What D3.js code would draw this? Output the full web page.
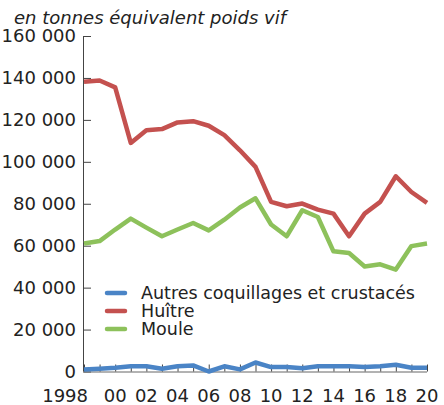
<!DOCTYPE html>
<html>
<head>
<meta charset="utf-8">
<script src="https://cdn.jsdelivr.net/npm/d3@7"></script>
<style>
  body { margin: 0; background: #fff; }
  svg text { font-family: "DejaVu Sans", sans-serif; fill: #222; }
</style>
</head>
<body>
<div id="chart"></div>
<script>
// années et séries (tonnes équivalent poids vif)
var years = d3.range(1998, 2021);
var autres = [900, 1300, 1800, 2500, 2500, 1300, 2500, 2900, 0, 2500, 1000, 4300,
              2100, 2100, 1600, 2500, 2500, 2500, 2100, 2500, 3200, 1800, 1800];
var huitre = [138200, 138800, 135500, 109000, 115100, 115600, 118800, 119400, 117200, 112700, 105500, 97600,
              80900, 78800, 80100, 77200, 75300, 64500, 75300, 80900, 93100, 85600, 80400];
var moule = [61000, 62200, 67700, 72900, 68600, 64500, 67700, 70800, 67300, 72400, 78200, 82600,
             70100, 64500, 76900, 73700, 57300, 56500, 50100, 51100, 48600, 59800, 61000];
var seriesNames = ["Autres coquillages et crustacés", "Huître", "Moule"];
var seriesColors = ["#4a84c6", "#c4514f", "#8dc15b"];
var yTicks = [0, 20000, 40000, 60000, 80000, 100000, 120000, 140000, 160000];
var xLabels = ["1998", "00", "02", "04", "06", "08", "10", "12", "14", "16", "18", "20"];

var width = 444, height = 405;

var svg = d3.select("#chart").append("svg")
    .attr("width", width)
    .attr("height", height);

var x = d3.scaleLinear().domain([1998, 2020]).range([84, 427]);
var y = d3.scaleLinear().domain([0, 160000]).range([371.5, 36]);

// titre de l'axe
svg.append("text")
    .attr("x", 14)
    .attr("y", 24)
    .style("font-size", "18px")
    .style("font-style", "italic")
    .text("en tonnes équivalent poids vif");

// axe Y
var fmt = function(d) { return d3.format(",")(d).replace(/,/g, " "); };
var yAxis = svg.append("g")
    .attr("transform", "translate(83,0)")
    .call(d3.axisRight(y).tickValues(yTicks).tickSize(8).tickFormat(""));
yAxis.select(".domain").attr("stroke", "#444").attr("d", "M0.5," + y(160000) + "V" + y(0));
yAxis.selectAll(".tick line").attr("stroke", "#444");

svg.append("g").selectAll("text")
    .data(yTicks)
  .enter().append("text")
    .attr("x", 76)
    .attr("y", function(d) { return y(d); })
    .attr("dy", "0.36em")
    .attr("text-anchor", "end")
    .style("font-size", "18px")
    .text(fmt);

// axe X
var xAxis = svg.append("g")
    .attr("transform", "translate(0," + y(0) + ")")
    .call(d3.axisTop(x).tickValues(years).tickSize(7).tickFormat(""));
xAxis.select(".domain").attr("stroke", "#666").attr("d", "M" + x(1998) + ",0.5H" + x(2020));
xAxis.selectAll(".tick line").attr("stroke", "#444");

svg.append("g").selectAll("text")
    .data(xLabels)
  .enter().append("text")
    .attr("x", function(d, i) { return i === 0 ? 88 : x(1998 + 2 * i); })
    .attr("y", 402)
    .attr("text-anchor", function(d, i) { return i === 0 ? "end" : "middle"; })
    .style("font-size", "18px")
    .text(function(d) { return d; });

// courbes
var line = d3.line()
    .x(function(d, i) { return x(years[i]); })
    .y(function(d) { return y(d); });

[autres, huitre, moule].forEach(function(s, k) {
  svg.append("path")
      .datum(s)
      .attr("fill", "none")
      .attr("stroke", seriesColors[k])
      .attr("stroke-width", 4.5)
      .attr("stroke-linejoin", "round")
      .attr("d", line);
});

// légende
var legend = svg.append("g").selectAll("g")
    .data(seriesNames)
  .enter().append("g")
    .attr("transform", function(d, i) { return "translate(0," + (293 + i * 18) + ")"; });

legend.append("line")
    .attr("x1", 107).attr("x2", 125)
    .attr("stroke", function(d, i) { return seriesColors[i]; })
    .attr("stroke-width", 4.5)
    .attr("stroke-linecap", "round");

legend.append("text")
    .attr("x", 141)
    .attr("dy", "0.36em")
    .style("font-size", "17.5px")
    .text(function(d) { return d; });
</script>
</body>
</html>
